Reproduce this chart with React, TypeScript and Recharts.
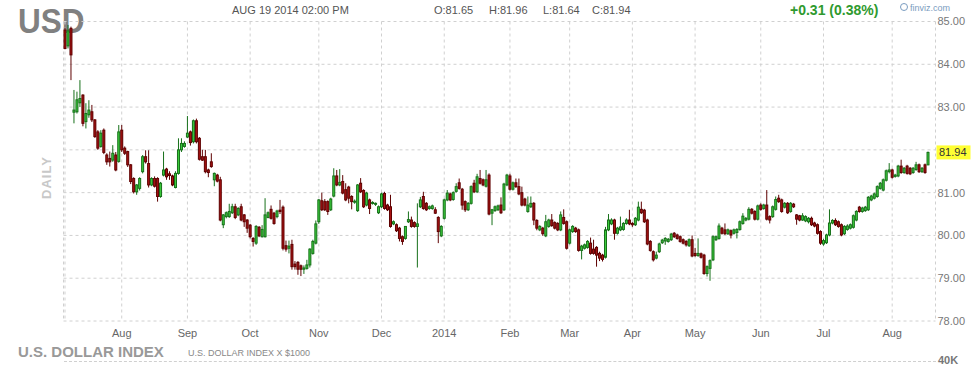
import { Bar, CartesianGrid, ComposedChart, ReferenceLine, XAxis, YAxis } from "recharts";

// daily candles, [open, high, low, close]
const JUL_AUG_2013: number[][] = [
  [84.8, 84.85, 84.35, 84.37], [84.43, 84.92, 84.37, 84.78], [84.84, 84.88, 83.63, 84.22],
  [82.88, 83.4, 82.62, 82.93], [82.89, 83.36, 82.85, 83.17], [83.1, 83.63, 83.0, 83.2],
  [83.28, 83.3, 82.55, 82.62], [82.66, 83.09, 82.5, 82.85], [82.82, 83.16, 82.75, 82.93],
  [82.89, 83.05, 82.65, 82.7], [82.7, 82.72, 82.28, 82.31], [82.42, 82.46, 82.0, 82.04],
  [82.08, 82.46, 82.05, 82.39], [82.46, 82.5, 81.9, 81.94], [81.88, 81.92, 81.65, 81.72],
  [81.8, 81.96, 81.61, 81.72], [81.76, 82.11, 81.72, 81.92], [81.88, 81.95, 81.5, 81.53],
  [81.73, 82.58, 81.7, 82.42], [82.46, 82.58, 81.95, 82.0], [82.04, 82.08, 81.88, 81.92],
  [81.96, 81.98, 81.6, 81.65], [81.65, 81.67, 81.2, 81.26], [81.33, 81.36, 80.98, 81.02],
  [81.02, 81.2, 80.95, 81.18], [81.1, 81.36, 81.05, 81.33], [81.49, 81.88, 81.45, 81.84],
  [81.84, 81.99, 81.68, 81.72], [81.68, 81.99, 81.12, 81.18], [81.18, 81.36, 81.15, 81.33],
  [81.33, 81.38, 81.12, 81.15], [81.33, 81.36, 80.79, 80.91], [80.91, 81.25, 80.88, 81.22],
  [81.41, 81.96, 81.38, 81.53], [81.55, 81.58, 81.3, 81.37],
];

const SEP_OCT_2013: number[][] = [
  [81.44, 81.5, 81.3, 81.4], [81.39, 81.42, 81.15, 81.18], [81.12, 81.5, 81.1, 81.45],
  [81.45, 82.27, 81.42, 82.0], [82.0, 82.27, 81.95, 82.15], [82.08, 82.2, 82.05, 82.15],
  [82.3, 82.79, 82.28, 82.39], [82.42, 82.45, 82.1, 82.17], [82.19, 82.71, 82.15, 82.68],
  [82.68, 82.73, 82.15, 82.19], [82.27, 82.3, 81.75, 81.78], [81.84, 82.0, 81.74, 81.76],
  [81.84, 82.0, 81.45, 81.49], [81.53, 81.56, 81.36, 81.47], [81.72, 81.92, 81.58, 81.61],
  [81.3, 81.47, 81.15, 81.45], [81.41, 81.44, 81.24, 81.27], [81.3, 81.37, 80.33, 80.36],
  [80.25, 80.5, 80.17, 80.48], [80.44, 80.56, 80.4, 80.53], [80.44, 80.74, 80.41, 80.56],
  [80.53, 80.74, 80.5, 80.67], [80.67, 80.74, 80.38, 80.42], [80.48, 80.66, 80.45, 80.63],
  [80.67, 80.74, 80.33, 80.36], [80.48, 80.5, 80.2, 80.32], [80.36, 80.38, 80.06, 80.17],
  [80.24, 80.27, 79.93, 79.97], [79.93, 79.96, 79.74, 79.86], [79.82, 80.24, 79.78, 80.21],
  [80.19, 80.22, 79.96, 79.99], [79.97, 80.24, 79.95, 80.14], [79.97, 80.87, 79.95, 80.48],
  [80.42, 80.56, 80.4, 80.53], [80.61, 80.7, 80.37, 80.4], [80.52, 80.55, 80.25, 80.28],
];

const OCT_NOV_2013: number[][] = [
  [80.44, 80.6, 80.4, 80.57], [80.59, 80.83, 80.5, 80.56], [80.66, 80.7, 79.65, 79.7],
  [79.76, 79.88, 79.62, 79.68], [79.7, 79.88, 79.58, 79.75], [79.79, 79.9, 79.2, 79.27],
  [79.33, 79.4, 79.2, 79.27], [79.37, 79.4, 79.08, 79.21], [79.29, 79.32, 79.05, 79.21],
  [79.21, 79.3, 79.1, 79.24], [79.23, 79.43, 79.2, 79.31], [79.31, 79.7, 79.25, 79.68],
  [79.58, 79.9, 79.55, 79.86], [79.82, 80.35, 79.79, 80.27], [80.32, 80.85, 80.27, 80.83],
  [80.81, 81.0, 80.57, 80.6], [80.79, 80.85, 80.57, 80.6], [80.79, 80.82, 80.48, 80.56],
  [80.6, 80.88, 80.57, 80.85], [80.92, 81.57, 80.89, 81.39], [81.39, 81.53, 81.15, 81.18],
  [81.18, 81.55, 81.15, 81.24], [81.26, 81.41, 80.96, 80.99], [81.07, 81.22, 80.8, 80.83],
  [81.13, 81.16, 80.75, 80.87], [80.91, 80.94, 80.61, 80.79], [80.79, 80.84, 80.74, 80.8],
  [80.58, 81.2, 80.55, 81.18], [81.22, 81.34, 80.99, 81.02], [81.05, 81.08, 80.64, 80.67],
  [80.71, 81.02, 80.68, 80.99], [80.83, 80.86, 80.5, 80.63], [80.76, 80.8, 80.72, 80.77],
  [80.73, 80.77, 80.69, 80.75],
];

const DEC_2013_JAN_2014: number[][] = [
  [80.53, 80.7, 80.5, 80.67], [80.67, 81.0, 80.64, 80.97], [80.98, 81.02, 80.6, 80.63],
  [80.71, 80.74, 80.57, 80.6], [80.67, 80.95, 80.18, 80.21], [80.27, 80.35, 80.24, 80.32],
  [80.25, 80.28, 80.08, 80.11], [80.17, 80.2, 79.86, 79.93], [79.97, 80.0, 79.78, 79.86],
  [79.93, 80.21, 79.9, 80.21], [80.32, 80.56, 80.29, 80.37], [80.36, 80.44, 80.18, 80.21],
  [80.3, 80.33, 80.18, 80.21], [80.21, 80.75, 79.25, 80.27], [80.67, 80.9, 80.64, 80.83],
  [80.91, 81.02, 80.6, 80.63], [80.75, 80.78, 80.57, 80.6], [80.63, 80.7, 80.6, 80.67],
  [80.63, 80.72, 80.6, 80.69], [80.6, 80.66, 80.5, 80.52], [80.42, 80.45, 79.82, 80.09],
  [79.99, 80.24, 79.96, 80.21], [80.4, 80.86, 80.37, 80.83], [80.83, 81.06, 80.8, 80.99],
  [80.97, 81.0, 80.8, 80.83], [80.84, 81.03, 80.81, 81.0], [81.03, 81.22, 81.0, 81.14],
  [81.23, 81.33, 81.07, 81.1], [81.08, 81.11, 80.6, 80.71], [80.79, 80.82, 80.55, 80.6],
  [80.6, 80.78, 80.57, 80.75], [80.75, 81.17, 80.72, 81.14], [81.22, 81.3, 80.99, 81.02],
  [81.02, 81.44, 80.99, 81.37], [81.33, 81.53, 81.19, 81.22], [81.3, 81.33, 81.15, 81.18],
  [81.15, 81.53, 81.12, 81.3],
];

const FEB_MAR_2014: number[][] = [
  [81.41, 81.45, 80.47, 80.5], [80.52, 80.62, 80.24, 80.6], [80.58, 80.7, 80.55, 80.67],
  [80.6, 80.72, 80.57, 80.69], [80.71, 80.89, 80.5, 80.53], [80.6, 81.23, 80.57, 81.2],
  [81.18, 81.44, 81.15, 81.41], [81.39, 81.44, 81.05, 81.08], [81.08, 81.26, 81.05, 81.23],
  [81.23, 81.33, 81.11, 81.14], [81.14, 81.33, 80.94, 80.97], [81.0, 81.14, 80.68, 80.71],
  [80.85, 80.88, 80.68, 80.71], [80.56, 80.91, 80.53, 80.71], [80.67, 80.91, 80.64, 80.75],
  [80.75, 80.78, 80.24, 80.36], [80.35, 80.38, 80.12, 80.17], [80.13, 80.24, 80.1, 80.21],
  [80.17, 80.2, 79.99, 80.04], [79.99, 80.48, 79.96, 80.32], [80.21, 80.39, 80.18, 80.36],
  [80.36, 80.5, 80.2, 80.23], [80.3, 80.33, 80.14, 80.17], [80.28, 80.31, 80.1, 80.13],
  [80.13, 80.56, 80.1, 80.48], [80.42, 80.61, 80.25, 80.28], [80.32, 80.35, 79.67, 79.7],
  [79.82, 80.16, 79.79, 80.13], [80.09, 80.24, 80.06, 80.21], [80.17, 80.2, 80.06, 80.09],
  [80.13, 80.16, 79.62, 79.65], [79.65, 79.78, 79.44, 79.75], [79.7, 79.81, 79.67, 79.78],
  [79.72, 79.89, 79.69, 79.86], [79.82, 79.95, 79.55, 79.58],
];

const MAR_MAY_2014: number[][] = [
  [79.68, 79.9, 79.55, 79.58], [79.72, 79.75, 79.27, 79.54], [79.58, 79.62, 79.4, 79.47],
  [79.54, 79.57, 79.39, 79.44], [79.49, 80.2, 79.46, 80.13], [80.13, 80.5, 80.1, 80.36],
  [80.27, 80.4, 80.24, 80.36], [80.36, 80.39, 79.9, 80.05], [80.05, 80.2, 80.02, 80.17],
  [80.13, 80.44, 80.1, 80.2], [80.14, 80.31, 80.11, 80.28], [80.28, 80.4, 80.25, 80.36],
  [80.36, 80.6, 80.24, 80.27], [80.28, 80.31, 80.2, 80.25], [80.25, 80.43, 80.22, 80.4],
  [80.36, 80.79, 80.33, 80.66], [80.61, 80.79, 80.5, 80.53], [80.59, 80.62, 80.29, 80.32],
  [80.36, 80.39, 79.77, 79.8], [79.86, 79.89, 79.62, 79.65], [79.62, 79.65, 79.39, 79.43],
  [79.47, 79.62, 79.44, 79.54], [79.62, 79.83, 79.59, 79.8], [79.83, 79.92, 79.8, 79.89],
  [79.87, 79.96, 79.78, 79.93], [79.86, 79.94, 79.83, 79.91], [79.9, 80.06, 79.87, 80.03],
  [80.05, 80.08, 79.94, 79.97], [80.01, 80.04, 79.9, 79.93], [79.97, 80.0, 79.83, 79.86],
  [79.9, 79.93, 79.79, 79.82], [79.86, 79.89, 79.74, 79.78], [79.76, 79.93, 79.73, 79.9],
];

const MAY_JUL_2014: number[][] = [
  [79.9, 80.0, 79.49, 79.52], [79.58, 79.71, 79.5, 79.53], [79.53, 79.93, 79.5, 79.58],
  [79.57, 79.6, 79.46, 79.49], [79.54, 79.57, 79.08, 79.11], [79.11, 79.3, 79.04, 79.27],
  [79.23, 79.44, 78.94, 79.41], [79.43, 80.0, 79.4, 79.97], [79.9, 80.0, 79.87, 79.97],
  [79.93, 80.28, 79.9, 80.22], [80.17, 80.2, 80.02, 80.05], [80.13, 80.28, 80.01, 80.04],
  [80.04, 80.16, 80.01, 80.13], [80.11, 80.14, 79.93, 80.01], [80.05, 80.16, 80.02, 80.13],
  [80.07, 80.17, 79.93, 80.14], [80.14, 80.35, 80.11, 80.32], [80.28, 80.52, 80.25, 80.45],
  [80.36, 80.43, 80.33, 80.4], [80.38, 80.66, 80.35, 80.61], [80.61, 80.64, 80.49, 80.52],
  [80.56, 80.59, 80.35, 80.38], [80.38, 80.72, 80.35, 80.69], [80.71, 80.75, 80.58, 80.61],
  [80.63, 80.74, 80.6, 80.71], [80.71, 81.06, 80.35, 80.38], [80.44, 80.47, 80.28, 80.36],
  [80.44, 80.7, 80.41, 80.67], [80.61, 80.91, 80.58, 80.84], [80.87, 80.95, 80.76, 80.79],
  [80.83, 80.86, 80.53, 80.56], [80.66, 80.78, 80.63, 80.75], [80.75, 80.78, 80.5, 80.53],
  [80.56, 80.78, 80.53, 80.75], [80.73, 80.76, 80.64, 80.67],
];

const JUL_AUG_2014: number[][] = [
  [80.48, 80.5, 80.25, 80.38], [80.46, 80.48, 80.33, 80.36], [80.36, 80.52, 80.34, 80.46],
  [80.34, 80.47, 80.31, 80.44], [80.32, 80.43, 80.28, 80.4], [80.4, 80.44, 80.22, 80.25],
  [80.29, 80.32, 80.19, 80.22], [80.25, 80.28, 80.02, 80.05], [80.09, 80.12, 79.78, 79.82],
  [79.8, 79.92, 79.76, 79.88], [79.83, 80.04, 79.8, 80.01], [80.01, 80.61, 79.98, 80.29],
  [80.29, 80.38, 80.26, 80.35], [80.35, 80.4, 80.22, 80.25], [80.32, 80.35, 80.18, 80.21],
  [80.25, 80.28, 79.98, 80.01], [80.04, 80.24, 80.01, 80.21], [80.14, 80.26, 80.11, 80.22],
  [80.17, 80.28, 80.14, 80.25], [80.19, 80.49, 80.16, 80.46], [80.36, 80.59, 80.33, 80.56],
  [80.66, 80.69, 80.53, 80.56], [80.56, 80.67, 80.53, 80.64], [80.58, 80.69, 80.55, 80.66],
  [80.6, 80.92, 80.57, 80.89], [80.83, 80.95, 80.8, 80.92], [80.87, 81.0, 80.84, 80.97],
  [80.91, 81.17, 80.88, 81.14], [81.1, 81.25, 81.07, 81.22], [81.06, 81.33, 81.03, 81.3],
  [81.29, 81.54, 81.26, 81.51], [81.49, 81.69, 81.45, 81.53], [81.53, 81.56, 81.33, 81.36],
  [81.38, 81.44, 81.35, 81.41], [81.39, 81.65, 81.36, 81.62], [81.62, 81.77, 81.44, 81.47],
  [81.47, 81.6, 81.44, 81.57], [81.62, 81.65, 81.42, 81.45], [81.57, 81.6, 81.41, 81.44],
  [81.47, 81.6, 81.44, 81.57], [81.54, 81.72, 81.51, 81.65], [81.65, 81.68, 81.46, 81.49],
  [81.49, 81.6, 81.46, 81.57], [81.65, 81.68, 81.44, 81.47], [81.65, 81.96, 81.64, 81.94],
];

const START = "2013-07-05";
const END = "2014-08-19";
const HOLIDAYS = ["2013-12-25", "2014-01-01", "2014-04-18"];
const MONTH_NAMES = ["Jan", "Feb", "Mar", "Apr", "May", "Jun", "Jul", "Aug", "Sep", "Oct", "Nov", "Dec"];
const PRICE_TICKS = [78, 79, 80, 81, 82, 83, 84, 85];
const VOLUME_LABEL = "40K";

const LAST_STAMP = "AUG 19 2014 02:00 PM";
const LAST_OHLC = { open: 81.65, high: 81.96, low: 81.64, close: 81.94 };
const LAST_CHANGE = "+0.31 (0.38%)";

const CANDLES = [
  ...JUL_AUG_2013,
  ...SEP_OCT_2013,
  ...OCT_NOV_2013,
  ...DEC_2013_JAN_2014,
  ...FEB_MAR_2014,
  ...MAR_MAY_2014,
  ...MAY_JUL_2014,
  ...JUL_AUG_2014,
];

function tradingDays() {
  const out: string[] = [];
  const d = new Date(START + "T00:00:00Z");
  const end = new Date(END + "T00:00:00Z");
  while (d <= end) {
    const wd = d.getUTCDay();
    const iso = d.toISOString().slice(0, 10);
    if (wd !== 0 && wd !== 6 && !HOLIDAYS.includes(iso)) out.push(iso);
    d.setUTCDate(d.getUTCDate() + 1);
  }
  return out;
}

const DAYS = tradingDays();

const data = DAYS.map((date, i) => {
  const [open, high, low, close] = CANDLES[i] ?? CANDLES[CANDLES.length - 1];
  return { date, open, high, low, close, range: [low, high] };
});

// first session of each month (plus the left edge)
const monthTicks = DAYS.filter((d, i) => i === 0 || d.slice(0, 7) !== DAYS[i - 1].slice(0, 7));

const fmtMonth = (d: string) => {
  if (d === DAYS[0]) return "";
  const m = Number(d.slice(5, 7));
  return m === 1 ? d.slice(0, 4) : MONTH_NAMES[m - 1];
};

const FONT = "'Liberation Sans', Arial, sans-serif";
const GRID = "#d0d0d0";

function Candle(props: any) {
  const { x, y, width, height, payload } = props;
  if (!payload || x == null) return null;
  const { open, high, low, close } = payload;
  const top = Math.min(y, y + height);
  const h = Math.abs(height);
  const px = (v: number) => top + (h * (high - v)) / (high - low || 1);
  const up = close >= open;
  const cx = x + width / 2;
  const bTop = px(Math.max(open, close));
  const bH = Math.max(1, px(Math.min(open, close)) - bTop);
  const edge = up ? "#17701a" : "#5e0000";
  const fill = up ? "#3ccc3c" : "#a81212";
  return (
    <g>
      <line x1={cx} x2={cx} y1={top} y2={top + h} stroke={edge} strokeWidth={1} />
      <rect x={cx - 1} y={bTop} width={2} height={bH} fill={fill} stroke={edge} strokeWidth={1} />
    </g>
  );
}

function LastTag(props: any) {
  const vb = props.viewBox;
  if (!vb) return null;
  const x = vb.x + vb.width + 1;
  return (
    <g>
      <rect x={x} y={vb.y - 7} width={34} height={14} fill="#ffff33" />
      <text x={x + 2.5} y={vb.y} dy="0.36em" fontSize={11} fill="#333" fontFamily={FONT}>
        {LAST_OHLC.close.toFixed(2)}
      </text>
    </g>
  );
}

const abs = (left: number, top: number, extra: React.CSSProperties = {}): React.CSSProperties => ({
  position: "absolute",
  left,
  top,
  lineHeight: 1,
  whiteSpace: "pre",
  ...extra,
});

export default function App() {
  return (
    <div
      style={{
        position: "absolute",
        left: 0,
        top: 0,
        width: 977,
        height: 365,
        overflow: "hidden",
        background: "#fff",
        fontFamily: FONT,
      }}
    >
      <div style={abs(18, 3, { fontSize: 35, fontWeight: 700, color: "#808080", transform: "scaleX(0.9)", transformOrigin: "left top" })}>
        USD
      </div>
      <div style={abs(232, 5, { fontSize: 11, color: "#555" })}>{LAST_STAMP}</div>
      <div style={abs(434, 5, { fontSize: 11, color: "#555" })}>{`O:${LAST_OHLC.open.toFixed(2)}`}</div>
      <div style={abs(489, 5, { fontSize: 11, color: "#555" })}>{`H:${LAST_OHLC.high.toFixed(2)}`}</div>
      <div style={abs(543, 5, { fontSize: 11, color: "#555" })}>{`L:${LAST_OHLC.low.toFixed(2)}`}</div>
      <div style={abs(592, 5, { fontSize: 11, color: "#555" })}>{`C:${LAST_OHLC.close.toFixed(2)}`}</div>
      <div style={abs(790, 3, { fontSize: 14, fontWeight: 700, color: "#2f9a2f" })}>{LAST_CHANGE}</div>
      <div style={abs(900, 3, { fontSize: 9, color: "#7a9cc0" })}>
        <span style={{ display: "inline-block", width: 6, height: 6, border: "1px solid #7a9cc0", borderRadius: "50%", marginRight: 2 }} />
        finviz.com
      </div>
      <div
        style={abs(25, 171, {
          fontSize: 13,
          fontWeight: 700,
          color: "#c8c8c8",
          letterSpacing: 1,
          transform: "rotate(-90deg)",
          transformOrigin: "center",
        })}
      >
        DAILY
      </div>
      <div style={abs(18, 344, { fontSize: 15, fontWeight: 700, color: "#999" })}>U.S. DOLLAR INDEX</div>
      <div style={abs(188, 349, { fontSize: 9, color: "#888" })}>U.S. DOLLAR INDEX X $1000</div>

      {/* empty volume pane: top border and scale label */}
      <div style={{ position: "absolute", left: 63.5, top: 361, width: 872, borderTop: `1px dashed ${GRID}` }} />
      <div style={abs(938, 355, { fontSize: 11, fontWeight: 700, color: "#777" })}>{VOLUME_LABEL}</div>

      <div style={{ position: "absolute", left: 0, top: 0 }}>
        <ComposedChart
          width={977}
          height={345}
          data={data}
          margin={{ top: 21.5, right: 0, bottom: 0, left: 63.5 }}
          barCategoryGap={0}
        >
          <CartesianGrid stroke={GRID} strokeDasharray="3 3" />
          <XAxis
            dataKey="date"
            ticks={monthTicks}
            interval={0}
            tickFormatter={fmtMonth}
            axisLine={false}
            tickLine={false}
            height={24}
            padding={{ left: 0, right: 6 }}
            tick={{ fill: "#666", fontSize: 11, fontFamily: FONT }}
          />
          <YAxis
            orientation="right"
            domain={[78, 85]}
            ticks={PRICE_TICKS}
            interval={0}
            tickFormatter={(v: number) => (v === 82 ? "" : v.toFixed(2))}
            axisLine={false}
            tickLine={false}
            tickSize={2}
            tickMargin={0}
            width={41.5}
            tick={{ fill: "#777", fontSize: 11, fontFamily: FONT }}
          />
          <ReferenceLine y={LAST_OHLC.close} stroke="#fff" strokeOpacity={0} label={<LastTag />} />
          <Bar dataKey="range" shape={<Candle />} isAnimationActive={false} />
        </ComposedChart>
      </div>
    </div>
  );
}
